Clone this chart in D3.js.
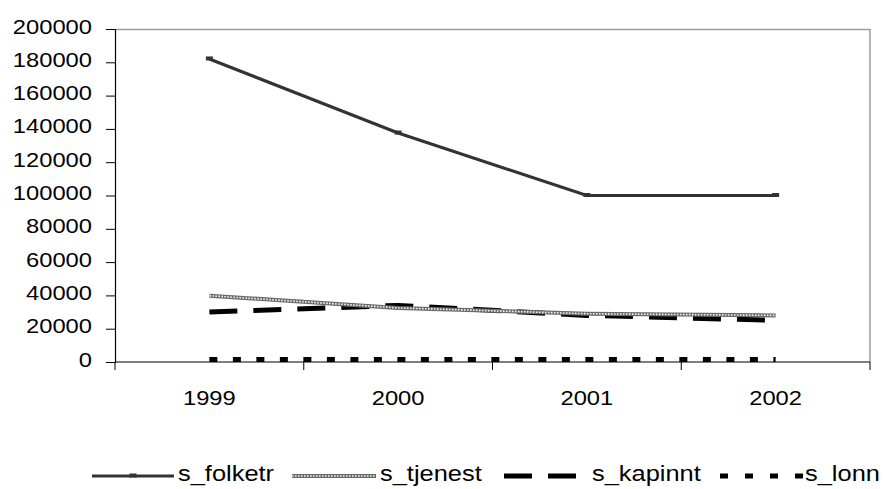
<!DOCTYPE html>
<html>
<head>
<meta charset="utf-8">
<script src="https://cdn.jsdelivr.net/npm/d3@7"></script>
<style>
  html, body { margin: 0; padding: 0; background: #fff; }
  text { font-family: "Liberation Sans", Arial, sans-serif; fill: #000; }
</style>
</head>
<body>
<svg id="chart" width="886" height="489"></svg>
<script>
// Yearly values per series
const years = ["1999", "2000", "2001", "2002"];
const sFolketr = [182000, 137500, 100000, 100000];
const sTjenest = [39800, 32500, 29000, 28000];
const sKapinnt = [30000, 34000, 28000, 25000];
const sLonn = [1500, 1500, 1500, 1500];
const yTicks = [0, 20000, 40000, 60000, 80000, 100000, 120000, 140000, 160000, 180000, 200000];
const seriesNames = ["s_folketr", "s_tjenest", "s_kapinnt", "s_lonn"];

const svg = d3.select("#chart");
const plot = { left: 115, right: 870, top: 29, bottom: 362 };
const stretch = 1.13; // glyphs are drawn slightly wide

const x = d3.scaleBand().domain(years).range([plot.left, plot.right]).paddingInner(0).paddingOuter(0);
const y = d3.scaleLinear().domain([0, 200000]).range([plot.bottom, plot.top]);

// plot frame: grey top and right edges
svg.append("line").attr("x1", plot.left).attr("x2", plot.right).attr("y1", plot.top + 0.5).attr("y2", plot.top + 0.5)
  .attr("stroke", "#9a9a9a").attr("stroke-width", 1.5);
svg.append("line").attr("x1", plot.right).attr("x2", plot.right).attr("y1", plot.top).attr("y2", plot.bottom)
  .attr("stroke", "#9a9a9a").attr("stroke-width", 1.5);

// y axis
const yAxis = d3.axisLeft(y).tickValues(yTicks).tickSize(9).tickPadding(14).tickFormat(d3.format("d"));
const gy = svg.append("g").attr("transform", `translate(${plot.left},0)`).call(yAxis);
gy.select(".domain").attr("stroke", "#000").attr("stroke-width", 1.2);
gy.selectAll(".tick line").attr("stroke", "#000");
gy.selectAll(".tick text")
  .attr("x", 0).attr("dy", null)
  .attr("transform", `translate(-23,4) scale(${stretch},1)`)
  .style("font-size", "21px");

// x axis with ticks at category boundaries
const gx = svg.append("g").attr("transform", `translate(0,${plot.bottom})`);
gx.append("line").attr("x1", plot.left).attr("x2", plot.right).attr("y1", 0).attr("y2", 0)
  .attr("stroke", "#000").attr("stroke-width", 1.2);
const boundaries = years.map(d => x(d)).concat([plot.right]);
gx.selectAll("line.b").data(boundaries).enter().append("line").attr("class", "b")
  .attr("x1", d => d).attr("x2", d => d).attr("y1", 0).attr("y2", 8).attr("stroke", "#000");
gx.selectAll("text").data(years).enter().append("text")
  .attr("transform", d => `translate(${x(d) + x.bandwidth() / 2},43) scale(${stretch},1)`)
  .attr("text-anchor", "middle").style("font-size", "21px").text(d => d);

const cx = d => x(d) + x.bandwidth() / 2;
const line = d3.line().x((d, i) => cx(years[i])).y(d => y(d));

// series styles
const styles = [
  { data: sFolketr, draw(g, path) {
      g.append("path").attr("d", path).attr("fill", "none").attr("stroke", "#333").attr("stroke-width", 3.2);
    } },
  { data: sTjenest, draw(g, path) {
      g.append("path").attr("d", path).attr("fill", "none").attr("stroke", "#6a6a6a").attr("stroke-width", 4);
      g.append("path").attr("d", path).attr("fill", "none").attr("stroke", "#f4f4f4").attr("stroke-width", 1.6)
        .attr("stroke-dasharray", "1.6,1.4");
    } },
  { data: sKapinnt, draw(g, path) {
      g.append("path").attr("d", path).attr("fill", "none").attr("stroke", "#000").attr("stroke-width", 5)
        .attr("stroke-dasharray", "28,16");
    } },
  { data: sLonn, draw(g, path, dash) {
      g.append("path").attr("d", path).attr("fill", "none").attr("stroke", "#000").attr("stroke-width", 5)
        .attr("stroke-dasharray", dash || "8,15.5");
    } }
];

// draw in reverse so the population line sits on top
[3, 2, 1, 0].forEach(i => {
  const g = svg.append("g");
  styles[i].draw(g, line(styles[i].data));
});

// small square markers on s_folketr
svg.append("g").selectAll("rect").data(sFolketr).enter().append("rect")
  .attr("x", (d, i) => cx(years[i]) - 3.5).attr("y", d => y(d) - 2.5)
  .attr("width", 7).attr("height", 4).attr("fill", "#333");

// legend
const legendLineY = 476;
const legendTextY = 481;
const legendItems = [
  { x0: 92, x1: 174, tx: 178 },
  { x0: 292, x1: 376, tx: 380 },
  { x0: 504, x1: 577, tx: 592 },
  { x0: 720, x1: 803, tx: 805, dash: "8,17" }
];
legendItems.forEach((it, i) => {
  const g = svg.append("g");
  const p = `M${it.x0},${legendLineY}L${it.x1},${legendLineY}`;
  styles[i].draw(g, p, it.dash);
  if (i === 0) {
    g.append("rect").attr("x", (it.x0 + it.x1) / 2 - 3.5).attr("y", legendLineY - 2.5)
      .attr("width", 7).attr("height", 4).attr("fill", "#333");
  }
  g.append("text").attr("transform", `translate(${it.tx},${legendTextY}) scale(${stretch},1)`)
    .style("font-size", "22.5px").text(seriesNames[i]);
});
</script>
</body>
</html>
